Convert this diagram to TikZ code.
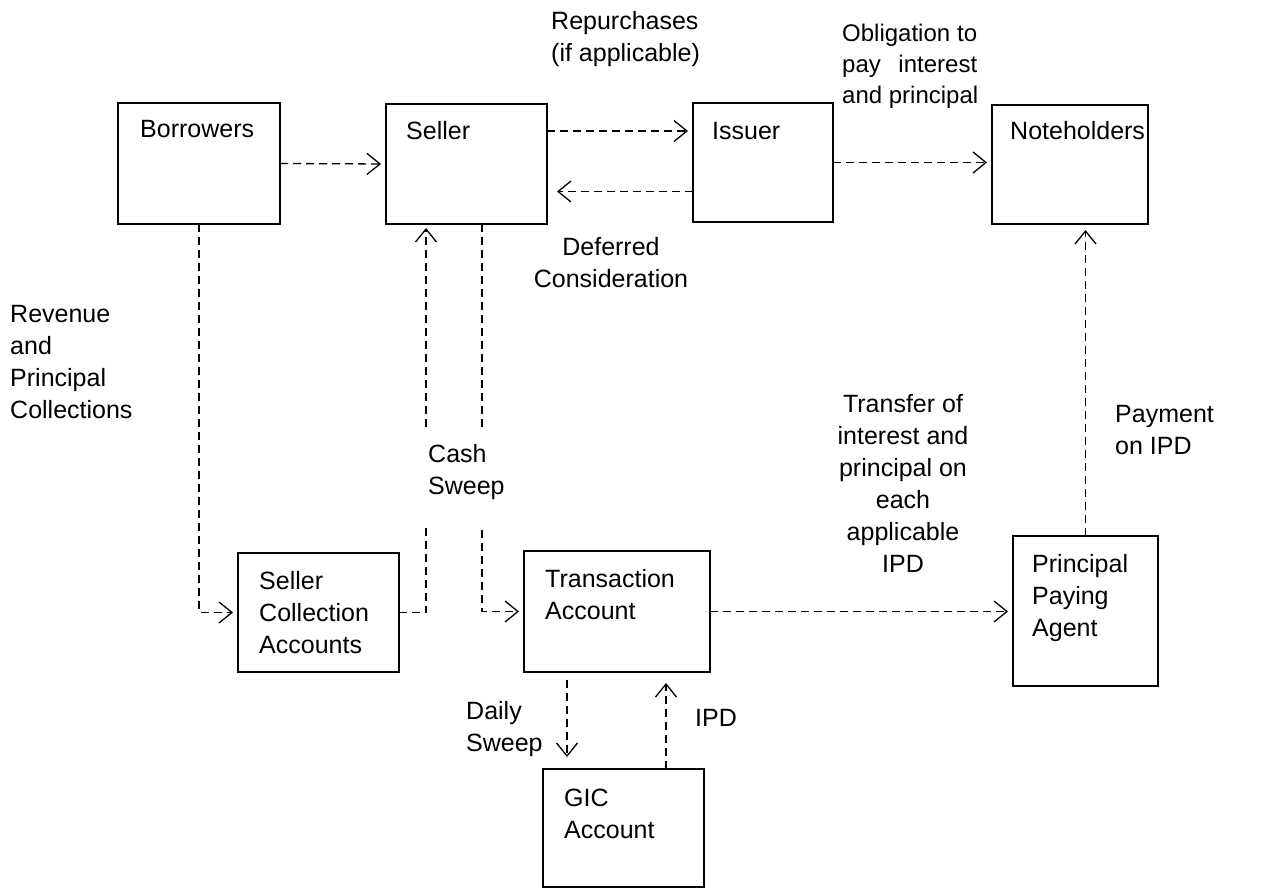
\documentclass[tikz,border=0pt]{standalone}
\usepackage{fontspec}
\setmainfont{Liberation Sans}
\usetikzlibrary{arrows.meta}
\begin{document}
\begin{tikzpicture}[x=1pt,y=-1pt,
  box/.style={draw, line width=2pt, anchor=north west, inner sep=0pt, outer sep=0pt},
  txt/.style={font=\fontsize{25}{32}\selectfont, inner sep=0pt, align=left, anchor=base west},
  ctxt/.style={font=\fontsize{25}{32}\selectfont, inner sep=0pt, align=center, anchor=base},
  plain/.style={line width=1.3pt, dash pattern=on 8pt off 5pt},
  flow/.style={plain, -{Straight Barb[length=13pt,width=21pt]}, shorten >=5pt}]
\useasboundingbox (0,0) rectangle (1282,889);

% boxes
\node[box, minimum width=162pt, minimum height=121pt] (borrowers) at (118,103) {};
\node[box, minimum width=161pt, minimum height=120pt] (seller) at (386,104) {};
\node[box, minimum width=140pt, minimum height=119pt] (issuer) at (693,103) {};
\node[box, minimum width=156pt, minimum height=119pt] (noteholders) at (992,105) {};
\node[box, minimum width=161pt, minimum height=119pt] (sca) at (238,553) {};
\node[box, minimum width=186pt, minimum height=121pt] (trans) at (524,551) {};
\node[box, minimum width=161pt, minimum height=118pt] (gic) at (543,769) {};
\node[box, minimum width=145pt, minimum height=150pt] (ppa) at (1013,536) {};

% box texts (anchor = baseline of the last line)
\node[txt] (borrowersT) at (140,137) {Borrowers};
\node[txt] (sellerT) at (406,139) {Seller};
\node[txt] (issuerT) at (712,139) {Issuer};
\node[txt] (noteholdersT) at (1010,139) {Noteholders};
\node[txt] (scaT) at (259,653) {Seller\\Collection\\Accounts};
\node[txt] (transT) at (545,619) {Transaction\\Account};
\node[txt] (gicT) at (564,838) {GIC\\Account};
\node[txt] (ppaT) at (1032,636) {Principal\\Paying\\Agent};

% labels
\node[txt] (repL) at (551,61) {Repurchases\\(if applicable)};
\node[txt, font=\fontsize{24}{31}\selectfont] (oblL) at (842,103)
  {\makebox[135pt][s]{Obligation to}\\\makebox[135pt][s]{pay interest}\\and principal};
\node[ctxt] (defL) at (611,287) {Deferred\\Consideration};
\node[txt] (revL) at (10,418) {Revenue\\and\\Principal\\Collections};
\node[txt] (cashL) at (428,494) {Cash\\Sweep};
\node[ctxt] (trfL) at (903,572) {Transfer of\\interest and\\principal on\\each\\applicable\\IPD};
\node[txt] (payL) at (1115,454) {Payment\\on IPD};
\node[txt] (dailyL) at (466,751) {Daily\\Sweep};
\node[txt] (ipdL) at (695,726) {IPD};

% helper coordinates
\coordinate (csTop) at (426,427);
\coordinate (csBot) at (426,527);
\coordinate (stTop) at (482,427);
\coordinate (stBot) at (482,530);
\coordinate (dsX) at (567,700);
\coordinate (ipX) at (666,700);

% connectors
\draw[flow] (borrowers.east) -- (seller.west);
\draw[flow] ([yshift=33pt]seller.east) -- ([yshift=33pt]seller.east -| issuer.west);
\draw[flow, shorten >=10pt] ([yshift=-29pt]issuer.west) -- ([yshift=-29pt]issuer.west -| seller.east);
\draw[flow] (issuer.east) -- (issuer.east -| noteholders.west);
\draw[flow] (borrowers.south) |- (sca.west);
\draw[plain] (sca.east) -| (csBot);
\draw[flow, shorten >=4pt] (csTop) -- (csTop |- seller.south);
\draw[plain] (stTop |- seller.south) -- (stTop);
\draw[flow] (stBot) |- (trans.west);
\draw[flow] (trans.east) -- (trans.east -| ppa.west);
\draw[flow, shorten >=6pt] (ppa.north) -- (ppa.north |- noteholders.south);
\draw[flow, shorten <=8pt, shorten >=12pt] (dsX |- trans.south) -- (dsX |- gic.north);
\draw[flow, shorten >=11pt] (ipX |- gic.north) -- (ipX |- trans.south);
\end{tikzpicture}
\end{document}
